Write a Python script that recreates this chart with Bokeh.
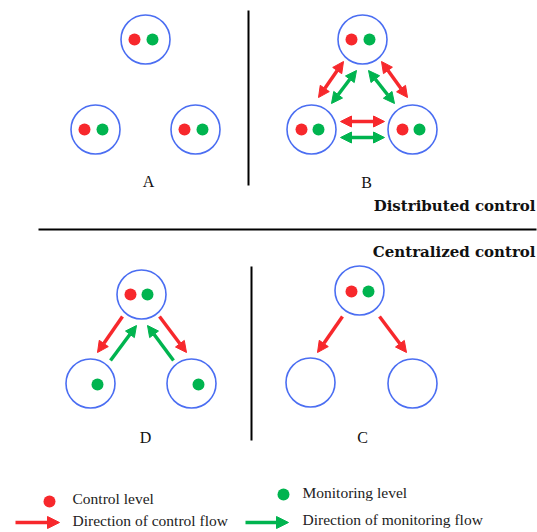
from bokeh.plotting import figure
from bokeh.models import Range1d, Arrow, NormalHead
from bokeh.core.properties import value
from bokeh.embed import file_html
from bokeh.resources import INLINE

RED = "#f7282c"
GREEN = "#00b44f"
BLUE = "#4b6ef2"

# Nodes (diagram coordinates, y downward)
node_x = [145, 95, 195, 362, 311, 412, 141, 90, 191, 359, 310, 412]
node_y = [39, 129, 129, 39, 129, 129, 294, 383, 383, 290, 382, 383]

# Control-level dots
red_x = [134, 84, 184, 351, 301, 402, 130, 351]
red_y = [39, 129, 129, 39, 129, 129, 294, 291]
# Monitoring-level dots
green_x = [152, 102, 202, 369, 318, 419, 147, 97, 198, 368]
green_y = [39, 129, 129, 39, 129, 129, 294, 384, 384, 291]

# Control flow arrows (x0, y0, x1, y1, double)
ctrl_x0 = [343, 381, 340, 122, 159, 342, 379]
ctrl_y0 = [61, 61, 121, 316, 316, 316, 316]
ctrl_x1 = [318, 407, 384, 97, 186, 317, 406]
ctrl_y1 = [97, 97, 121, 352, 352, 352, 352]
ctrl_double = [True, True, True, False, False, False, False]

# Monitoring flow arrows
mon_x0 = [356, 368, 340, 110, 173]
mon_y0 = [70, 70, 137, 360, 360]
mon_x1 = [331, 394, 384, 136, 147]
mon_y1 = [103, 103, 137, 325, 325]
mon_double = [True, True, True, False, False]

panel_labels = ["A", "B", "D", "C"]
panel_lx = [148, 366, 145, 362]
panel_ly = [181, 182, 437, 437]

headings = ["Distributed control", "Centralized control"]
legend_texts = ["Control level", "Monitoring level",
                "Direction of  control flow", "Direction of monitoring flow"]

W, H = 537, 532
p = figure(width=W, height=H, output_backend="svg", toolbar_location=None,
           x_range=Range1d(0, W), y_range=Range1d(H, 0),
           min_border=0, outline_line_color=None)
p.axis.visible = False
p.grid.visible = False
p.background_fill_color = "white"

# separators
p.segment(x0=[248, 251], y0=[10, 266], x1=[248, 251], y1=[185, 440],
          line_color="black", line_width=2)
p.segment(x0=[38], y0=[229], x1=[536], y1=[229], line_color="black", line_width=2)

# nodes
p.scatter(node_x, node_y, size=49, fill_color=None, line_color=BLUE, line_width=1.6)
p.scatter(red_x, red_y, size=12, fill_color=RED, line_color=None)
p.scatter(green_x, green_y, size=12, fill_color=GREEN, line_color=None)


def add_arrows(x0, y0, x1, y1, dbl, color):
    for a, b, c, d, two in zip(x0, y0, x1, y1, dbl):
        end = NormalHead(size=11, fill_color=color, line_color=color, line_width=1)
        start = NormalHead(size=11, fill_color=color, line_color=color, line_width=1) if two else None
        p.add_layout(Arrow(x_start=a, y_start=b, x_end=c, y_end=d, end=end, start=start,
                           line_color=color, line_width=3.5))


add_arrows(ctrl_x0, ctrl_y0, ctrl_x1, ctrl_y1, ctrl_double, RED)
add_arrows(mon_x0, mon_y0, mon_x1, mon_y1, mon_double, GREEN)

# panel labels
p.text(x=panel_lx, y=panel_ly, text=panel_labels, text_align="center", text_baseline="middle",
       text_font=value("Liberation Serif"), text_font_size="16px", text_color="#111111")

# headings
p.text(x=[535, 535], y=[205, 251], text=headings, text_align="right", text_baseline="middle",
       text_font=value("DejaVu Serif"), text_font_style="bold", text_font_size="15px",
       text_color="#111111")

# legend
p.scatter([49], [501], size=12, fill_color=RED, line_color=None)
p.scatter([283], [494], size=12, fill_color=GREEN, line_color=None)
p.add_layout(Arrow(x_start=15, y_start=522, x_end=59, y_end=522,
                   end=NormalHead(size=12, fill_color=RED, line_color=RED, line_width=1),
                   line_color=RED, line_width=3.5))
p.add_layout(Arrow(x_start=245, y_start=522, x_end=288, y_end=522,
                   end=NormalHead(size=12, fill_color=GREEN, line_color=GREEN, line_width=1),
                   line_color=GREEN, line_width=3.5))
p.text(x=[72, 302, 72, 302], y=[498, 492, 520, 519], text=legend_texts,
       text_align="left", text_baseline="middle",
       text_font=value("Liberation Serif"), text_font_size="15.5px", text_color="#222222")

open("out.html", "w").write(file_html(p, INLINE))
